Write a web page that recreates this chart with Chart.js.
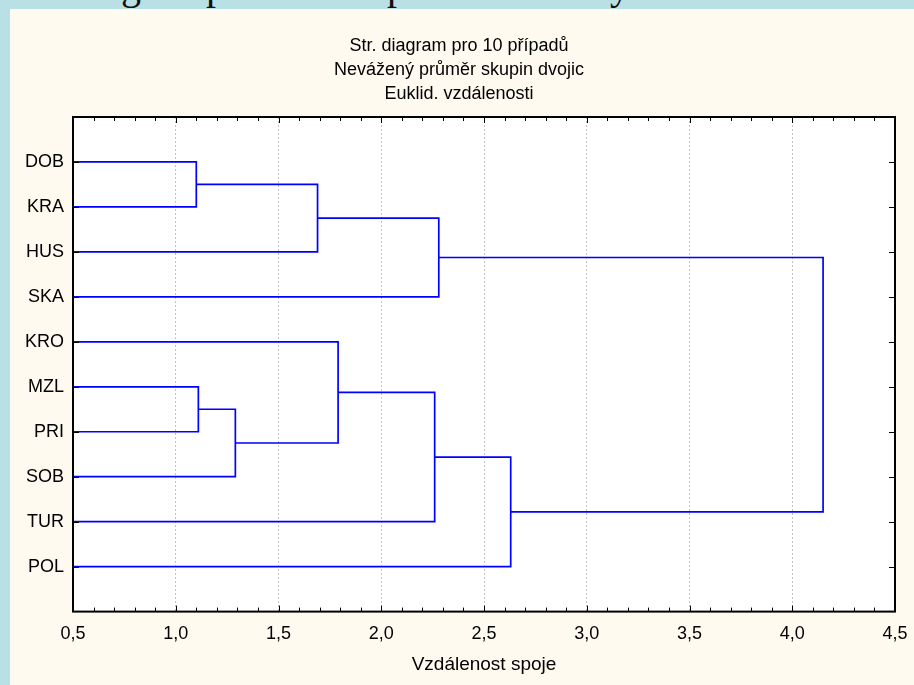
<!DOCTYPE html>
<html lang="cs">
<head>
<meta charset="utf-8">
<title>Str. diagram pro 10 případů</title>
<script src="https://cdn.jsdelivr.net/npm/chart.js@4.4.1/dist/chart.umd.min.js"></script>
<style>
  html, body { margin: 0; padding: 0; }
  body {
    width: 914px; height: 685px; overflow: hidden; position: relative;
    background: #b9e0e4;
  }
  /* spodky písmen nadpisu snímku, useknuté horním okrajem */
  .cut {
    position: absolute; top: -34px;
    font: 40px/40px "Liberation Serif", "Times New Roman", serif;
    color: #111;
  }
  #panel {
    position: absolute; left: 10px; top: 9px;
    width: 904px; height: 676px; background: #fffaf0;
  }
</style>
</head>
<body>
<span class="cut" style="left:121px">g</span>
<span class="cut" style="left:206px">p</span>
<span class="cut" style="left:387px">p</span>
<span class="cut" style="left:610px">y</span>
<div id="panel"><canvas id="chart" width="904" height="676"></canvas></div>

<script>
// listy stromu odshora dolů
const leaves = ['DOB', 'KRA', 'HUS', 'SKA', 'KRO', 'MZL', 'PRI', 'SOB', 'TUR', 'POL'];
// kroky spojování: 0-9 jsou listy, 10+ shluky v pořadí vzniku
const mergeA = [0, 10, 11, 5, 13, 4, 15, 16, 12];
const mergeB = [1, 2, 3, 6, 7, 14, 8, 9, 17];
const mergeDist = [1.10, 1.69, 2.28, 1.11, 1.29, 1.79, 2.26, 2.63, 4.15];

const titleLines = ['Str. diagram pro 10 případů', 'Nevážený průměr skupin dvojic', 'Euklid. vzdálenosti'];
const xTitle = 'Vzdálenost spoje';
const xMin = 0.5, xMax = 4.5, xStep = 0.5;

Chart.defaults.font.family = '"Liberation Sans", Arial, sans-serif';
Chart.defaults.color = '#000';

// poloha a výška každého shluku, listy začínají na levém okraji osy
const pos = leaves.map((_, i) => i + 1);
const height = leaves.map(() => xMin);
const datasets = mergeA.map((a, k) => {
  const b = mergeB[k], d = mergeDist[k];
  const pts = [
    { x: height[a], y: pos[a] },
    { x: d, y: pos[a] },
    { x: d, y: pos[b] },
    { x: height[b], y: pos[b] }
  ];
  pos.push((pos[a] + pos[b]) / 2);
  height.push(d);
  return {
    data: pts,
    showLine: true,
    borderColor: '#0000ff',
    borderWidth: 1.7,
    pointRadius: 0,
    tension: 0,
    fill: false
  };
});

const framePlugin = {
  id: 'frame',
  beforeDraw(chart) {
    const { ctx, chartArea: a } = chart;
    ctx.save();
    ctx.fillStyle = '#fff';
    ctx.fillRect(a.left, a.top, a.right - a.left, a.bottom - a.top);
    ctx.restore();
  },
  afterDraw(chart) {
    const { ctx, chartArea: a, scales: { x, y } } = chart;
    ctx.save();
    ctx.strokeStyle = '#000';
    ctx.lineWidth = 1;
    ctx.beginPath();
    for (let t = Math.round(xMin * 10); t <= Math.round(xMax * 10); t++) {
      const px = Math.round(x.getPixelForValue(t / 10)) + 0.5;
      const len = t % 5 === 0 ? 6 : 4;
      ctx.moveTo(px, a.bottom); ctx.lineTo(px, a.bottom - len);
      ctx.moveTo(px, a.top); ctx.lineTo(px, a.top + len);
    }
    leaves.forEach((_, i) => {
      const py = Math.round(y.getPixelForValue(i + 1)) + 0.5;
      ctx.moveTo(a.left, py); ctx.lineTo(a.left + 6, py);
      ctx.moveTo(a.right, py); ctx.lineTo(a.right - 6, py);
    });
    ctx.stroke();
    ctx.lineWidth = 2;
    ctx.strokeRect(a.left, a.top, a.right - a.left, a.bottom - a.top);
    ctx.restore();
  }
};

new Chart(document.getElementById('chart'), {
  type: 'scatter',
  data: { datasets },
  options: {
    responsive: false,
    animation: false,
    layout: { padding: { left: 13, right: 19, top: 0, bottom: 9 } },
    plugins: {
      legend: { display: false },
      tooltip: { enabled: false },
      title: {
        display: true,
        text: titleLines,
        color: '#000',
        font: { size: 18, weight: 'normal', lineHeight: 24 / 18 },
        padding: { top: 25, bottom: 11 }
      }
    },
    scales: {
      x: {
        type: 'linear',
        min: xMin,
        max: xMax,
        afterFit: s => { s.paddingLeft = 0; s.paddingRight = 0; },
        ticks: {
          stepSize: xStep,
          padding: 12,
          font: { size: 18 },
          callback: v => v.toFixed(1).replace('.', ',')
        },
        grid: {
          drawTicks: false,
          lineWidth: 1,
          color: c => (c.tick && c.tick.value > xMin && c.tick.value < xMax) ? '#c4c4c4' : 'rgba(0,0,0,0)'
        },
        border: { display: false, dash: [2, 2] },
        title: {
          display: true,
          text: xTitle,
          font: { size: 19 },
          padding: { top: -4, bottom: 0 }
        }
      },
      y: {
        type: 'linear',
        min: 0,
        max: leaves.length + 1,
        reverse: true,
        afterFit: s => { s.width = 50; },
        ticks: {
          stepSize: 1,
          autoSkip: false,
          padding: 9,
          font: { size: 18 },
          callback: v => leaves[v - 1] || ''
        },
        grid: { display: false, drawTicks: false },
        border: { display: false }
      }
    }
  },
  plugins: [framePlugin]
});
</script>
</body>
</html>
